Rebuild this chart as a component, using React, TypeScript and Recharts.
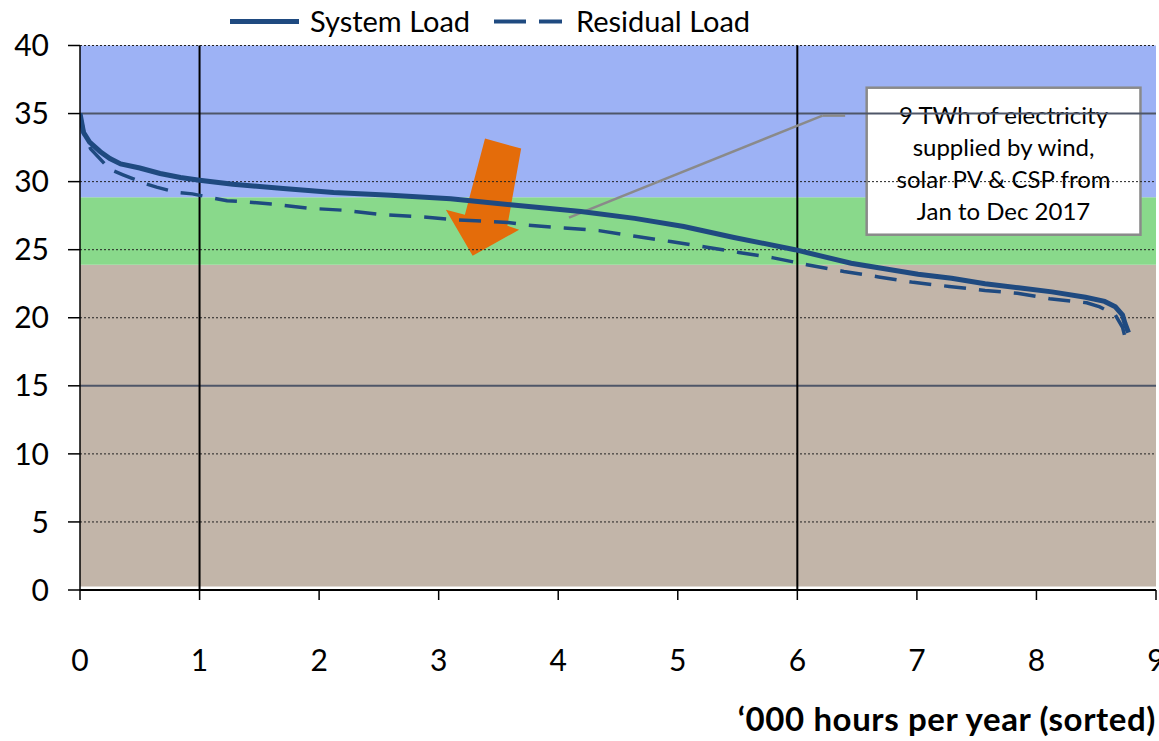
import { LineChart, Line, XAxis, YAxis, ReferenceArea, ReferenceLine } from 'recharts';

// '000 hours per year (sorted) vs GW
const hourTicks = [0, 1, 2, 3, 4, 5, 6, 7, 8, 9];
const loadTicks = [0, 5, 10, 15, 20, 25, 30, 35, 40];
const dottedGrid = [5, 10, 20, 25, 30, 40];
const solidGrid = [15, 35];
const markerHours = [1, 6];

// background bands: tan / green / blue
const bandEdges = [0.25, 23.9, 28.85, 40];
const bandColors = ['#C2B5A9', '#89D98B', '#9DB2F5'];

const systemHours = [0, 0.03, 0.08, 0.17, 0.25, 0.34, 0.5, 0.67, 0.84, 1.0, 1.28, 1.7, 2.12, 2.6, 3.1, 3.6, 4.19, 4.64, 5.05, 5.47, 5.98, 6.45, 6.73, 7.01, 7.29, 7.57, 7.85, 8.13, 8.41, 8.57, 8.66, 8.72, 8.74, 8.77];
const systemLoad = [35.0, 33.6, 32.9, 32.2, 31.7, 31.3, 31.0, 30.6, 30.3, 30.1, 29.8, 29.5, 29.2, 29.0, 28.75, 28.3, 27.8, 27.3, 26.7, 25.9, 25.0, 24.0, 23.6, 23.2, 22.9, 22.5, 22.2, 21.9, 21.5, 21.2, 20.8, 20.2, 19.6, 18.9];

const residualHours = [0, 0.04, 0.09, 0.25, 0.36, 0.53, 0.64, 0.81, 0.94, 1.11, 1.23, 1.41, 1.6, 1.9, 2.2, 2.5, 2.87, 3.13, 3.58, 3.75, 4.05, 4.34, 4.63, 4.94, 5.23, 5.51, 5.8, 6.08, 6.39, 6.68, 6.97, 7.27, 7.57, 7.84, 8.11, 8.42, 8.53, 8.66, 8.72, 8.76];
const residualLoad = [35.0, 33.3, 32.4, 30.9, 30.5, 29.9, 29.6, 29.2, 29.1, 28.8, 28.6, 28.5, 28.35, 28.05, 27.9, 27.6, 27.4, 27.2, 27.0, 26.8, 26.6, 26.4, 26.0, 25.6, 25.2, 24.8, 24.4, 23.9, 23.4, 23.0, 22.6, 22.3, 22.0, 21.8, 21.4, 21.1, 20.8, 20.2, 19.3, 17.9];

const noteLines = ['9 TWh of electricity', 'supplied by wind,', 'solar PV & CSP from', 'Jan to Dec 2017'];

const systemData = systemHours.map((h, i) => ({ hours: h, load: systemLoad[i] }));
const residualData = residualHours.map((h, i) => ({ hours: h, load: residualLoad[i] }));

const LINE = '#1F4A80';
const FONT = 'Lato, "Open Sans", sans-serif';

const Arrow = (p: any) => {
  const { x, y, width: w, height: h } = p;
  const pts = [
    [0.52, 0], [1, 0.085], [0.817, 0.744], [0.973, 0.778],
    [0.356, 1], [0, 0.607], [0.253, 0.65],
  ].map(([fx, fy]) => `${x + fx * w},${y + fy * h}`).join(' ');
  return <polygon points={pts} fill="#E46C0A" />;
};

const NoteBox = (p: any) => {
  const { x, y, width: w, height: h } = p;
  return (
    <g>
      <rect x={x} y={y} width={w} height={h} fill="#fff" stroke="#8A8A8A" strokeWidth={2.5} />
      {noteLines.map((t, i) => (
        <text key={i} x={x + w / 2} y={y + 36 + i * 32} textAnchor="middle" fontSize={24} fill="#000" fontFamily={FONT}>
          {t}
        </text>
      ))}
    </g>
  );
};

export default function App() {
  return (
    <div style={{ position: 'absolute', left: 0, top: 0, width: 1159, height: 741, background: '#fff', fontFamily: FONT, overflow: 'hidden' }}>
      <LineChart width={1159} height={741} margin={{ top: 45.5, right: 3, bottom: 0, left: 0 }} style={{ fontFamily: FONT }}>
        <XAxis
          dataKey="hours"
          type="number"
          domain={[0, 9]}
          ticks={hourTicks}
          interval={0}
          height={151}
          tickSize={10}
          tickMargin={50}
          tick={{ fontSize: 30, fill: '#000' }}
          axisLine={{ stroke: '#000', strokeWidth: 2 }}
          tickLine={{ stroke: '#000', strokeWidth: 1.5 }}
          allowDataOverflow
        />
        <YAxis
          type="number"
          domain={[0, 40]}
          ticks={loadTicks}
          interval={0}
          width={80}
          tickSize={12}
          tickMargin={19}
          tick={{ fontSize: 30, fill: '#000' }}
          axisLine={{ stroke: '#000', strokeWidth: 1.5 }}
          tickLine={{ stroke: '#000', strokeWidth: 1.5 }}
        />
        {bandColors.map((c, i) => (
          <ReferenceArea key={`band-${i}`} y1={bandEdges[i]} y2={bandEdges[i + 1]} fill={c} fillOpacity={1} stroke="none" />
        ))}
        {dottedGrid.map((v) => (
          <ReferenceLine key={`dg-${v}`} y={v} stroke="#222" strokeWidth={1} strokeDasharray="2 2" />
        ))}
        {solidGrid.map((v) => (
          <ReferenceLine key={`sg-${v}`} y={v} stroke="#4E5668" strokeWidth={2} />
        ))}
        {markerHours.map((v) => (
          <ReferenceLine key={`vm-${v}`} x={v} stroke="#000" strokeWidth={2} />
        ))}
        <ReferenceLine segment={[{ x: 6.40, y: 34.85 }, { x: 6.21, y: 34.85 }]} stroke="#8A8A8A" strokeWidth={2.5} />
        <ReferenceLine segment={[{ x: 6.21, y: 34.85 }, { x: 4.09, y: 27.35 }]} stroke="#8A8A8A" strokeWidth={2.5} />
        <ReferenceArea x1={6.58} x2={8.87} y1={26.1} y2={36.9} shape={NoteBox} />
        <Line data={systemData} dataKey="load" type="linear" stroke={LINE} strokeWidth={5} dot={false} isAnimationActive={false} />
        <Line data={residualData} dataKey="load" type="linear" stroke={LINE} strokeWidth={3.5} strokeDasharray="22 13" dot={false} isAnimationActive={false} />
        <ReferenceArea x1={3.06} x2={3.69} y1={24.56} y2={33.16} shape={Arrow} />
      </LineChart>
      <svg width={1159} height={741} style={{ position: 'absolute', left: 0, top: 0, pointerEvents: 'none' }}>
        <line x1={230} x2={299} y1={21.5} y2={21.5} stroke={LINE} strokeWidth={5} />
        <text x={310} y={32} fontSize={29} fontFamily={FONT} fill="#000">System Load</text>
        <line x1={494} x2={526} y1={21.5} y2={21.5} stroke={LINE} strokeWidth={4} />
        <line x1={539} x2={562} y1={21.5} y2={21.5} stroke={LINE} strokeWidth={4} />
        <text x={576} y={32} fontSize={29} fontFamily={FONT} fill="#000">Residual Load</text>
        <text x={1156} y={731} textAnchor="end" fontSize={33} fontWeight={700} letterSpacing={0.6} fontFamily={FONT} fill="#000">
          ‘000 hours per year (sorted)
        </text>
      </svg>
    </div>
  );
}
